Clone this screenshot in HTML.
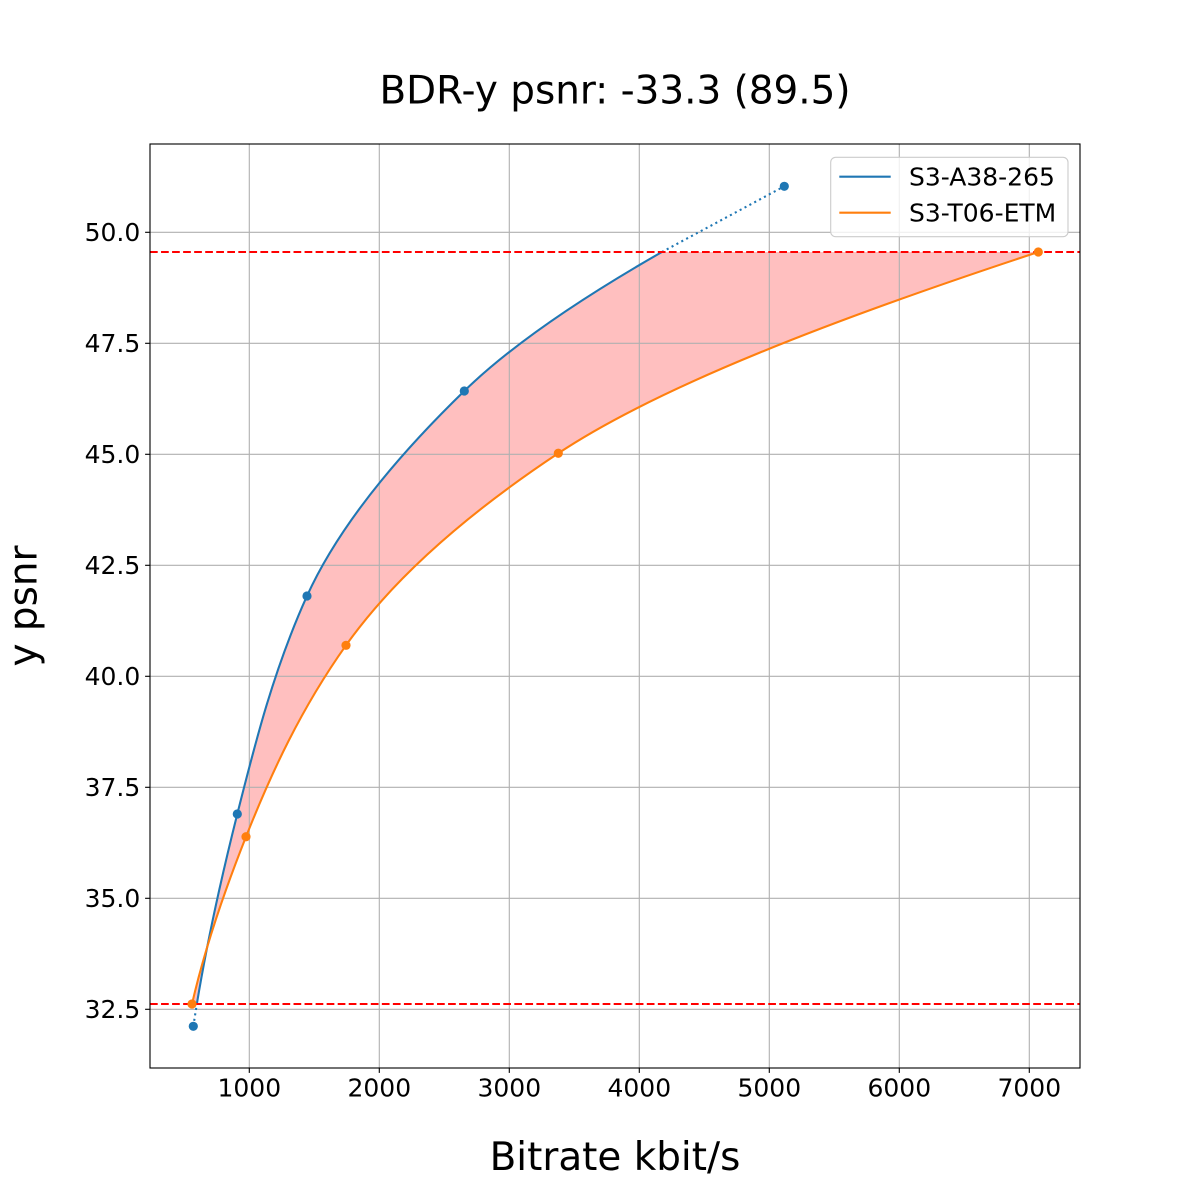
<!DOCTYPE html>
<html>
<head>
<meta charset="utf-8">
<style>
html,body{margin:0;padding:0;background:#fff;}
svg{display:block;}
text{font-family:"DejaVu Sans","Liberation Sans",sans-serif;fill:#000;}
</style>
</head>
<body>
<svg width="1200" height="1200" viewBox="0 0 1200 1200" xmlns="http://www.w3.org/2000/svg">
<rect x="0" y="0" width="1200" height="1200" fill="#fff"/>
<!-- fill between -->
<path d="M196.84,1003.97 C207.32,940.64 221.39,877.31 237.3,813.98 C255.56,741.31 274.06,668.65 307,595.98 C337.97,527.65 393.95,459.32 464.3,390.99 C511.99,344.67 580.75,298.33 661.87,252.01 L1038.3,252.01 C834.38,319.10 659.37,386.19 558.3,453.28 C461.87,517.29 391.41,581.30 346,645.31 C300.74,709.11 271.33,772.92 246,836.72 C223.87,892.49 204.81,948.25 192,1004.02 Z" fill="#ffbfbf" stroke="none"/>
<!-- grid -->
<g stroke="#b0b0b0" stroke-width="1.11">
<line x1="249.3" y1="144" x2="249.3" y2="1068"/>
<line x1="379.3" y1="144" x2="379.3" y2="1068"/>
<line x1="509.3" y1="144" x2="509.3" y2="1068"/>
<line x1="639.3" y1="144" x2="639.3" y2="1068"/>
<line x1="769.3" y1="144" x2="769.3" y2="1068"/>
<line x1="899.3" y1="144" x2="899.3" y2="1068"/>
<line x1="1029.3" y1="144" x2="1029.3" y2="1068"/>
<line x1="150" y1="232.3" x2="1080" y2="232.3"/>
<line x1="150" y1="343.3" x2="1080" y2="343.3"/>
<line x1="150" y1="454.3" x2="1080" y2="454.3"/>
<line x1="150" y1="565.3" x2="1080" y2="565.3"/>
<line x1="150" y1="676.3" x2="1080" y2="676.3"/>
<line x1="150" y1="787.3" x2="1080" y2="787.3"/>
<line x1="150" y1="898.3" x2="1080" y2="898.3"/>
<line x1="150" y1="1009.3" x2="1080" y2="1009.3"/>
</g>
<!-- blue series -->
<path d="M196.84,1003.97 C207.32,940.64 221.39,877.31 237.3,813.98 C255.56,741.31 274.06,668.65 307,595.98 C337.97,527.65 393.95,459.32 464.3,390.99 C511.99,344.67 580.75,298.33 661.87,252.01" fill="none" stroke="#1f77b4" stroke-width="2.08"/>
<line x1="193.3" y1="1026.3" x2="196.84" y2="1003.97" stroke="#1f77b4" stroke-width="2.08" stroke-dasharray="2.08 3.44"/>
<line x1="661.87" y1="252.01" x2="784.3" y2="186.3" stroke="#1f77b4" stroke-width="2.08" stroke-dasharray="2.08 3.44"/>
<!-- orange series -->
<path d="M192,1004.02 C204.81,948.25 223.87,892.49 246,836.72 C271.33,772.92 300.74,709.11 346,645.31 C391.41,581.30 461.87,517.29 558.3,453.28 C659.37,386.19 834.38,319.10 1038.3,252.01" fill="none" stroke="#ff7f0e" stroke-width="2.08"/>
<!-- red dashed -->
<line x1="150" y1="252" x2="1080" y2="252" stroke="#ff0000" stroke-width="2.08" stroke-dasharray="7.71 3.33"/>
<line x1="150" y1="1004" x2="1080" y2="1004" stroke="#ff0000" stroke-width="2.08" stroke-dasharray="7.71 3.33"/>
<!-- markers -->
<g fill="#1f77b4">
<circle cx="193.3" cy="1026.3" r="4.6"/>
<circle cx="237.3" cy="813.98" r="4.6"/>
<circle cx="307" cy="595.98" r="4.6"/>
<circle cx="464.3" cy="390.99" r="4.6"/>
<circle cx="784.3" cy="186.3" r="4.6"/>
</g>
<g fill="#ff7f0e">
<circle cx="192" cy="1004.02" r="4.6"/>
<circle cx="246" cy="836.72" r="4.6"/>
<circle cx="346" cy="645.31" r="4.6"/>
<circle cx="558.3" cy="453.28" r="4.6"/>
<circle cx="1038.3" cy="252.01" r="4.6"/>
</g>
<!-- spines -->
<rect x="150" y="144" width="930" height="924" fill="none" stroke="#000" stroke-width="1.11"/>
<!-- ticks -->
<g stroke="#000" stroke-width="1.11">
<line x1="249.3" y1="1068" x2="249.3" y2="1072.9"/>
<line x1="379.3" y1="1068" x2="379.3" y2="1072.9"/>
<line x1="509.3" y1="1068" x2="509.3" y2="1072.9"/>
<line x1="639.3" y1="1068" x2="639.3" y2="1072.9"/>
<line x1="769.3" y1="1068" x2="769.3" y2="1072.9"/>
<line x1="899.3" y1="1068" x2="899.3" y2="1072.9"/>
<line x1="1029.3" y1="1068" x2="1029.3" y2="1072.9"/>
<line x1="145.1" y1="232.3" x2="150" y2="232.3"/>
<line x1="145.1" y1="343.3" x2="150" y2="343.3"/>
<line x1="145.1" y1="454.3" x2="150" y2="454.3"/>
<line x1="145.1" y1="565.3" x2="150" y2="565.3"/>
<line x1="145.1" y1="676.3" x2="150" y2="676.3"/>
<line x1="145.1" y1="787.3" x2="150" y2="787.3"/>
<line x1="145.1" y1="898.3" x2="150" y2="898.3"/>
<line x1="145.1" y1="1009.3" x2="150" y2="1009.3"/>
</g>
<!-- tick labels -->
<g font-size="25" text-anchor="middle">
<text x="249.3" y="1096.5">1000</text>
<text x="379.3" y="1096.5">2000</text>
<text x="509.3" y="1096.5">3000</text>
<text x="639.3" y="1096.5">4000</text>
<text x="769.3" y="1096.5">5000</text>
<text x="899.3" y="1096.5">6000</text>
<text x="1029.3" y="1096.5">7000</text>
</g>
<g font-size="25" text-anchor="end">
<text x="140.3" y="240.8">50.0</text>
<text x="140.3" y="351.8">47.5</text>
<text x="140.3" y="462.8">45.0</text>
<text x="140.3" y="573.8">42.5</text>
<text x="140.3" y="684.8">40.0</text>
<text x="140.3" y="795.8">37.5</text>
<text x="140.3" y="906.8">35.0</text>
<text x="140.3" y="1017.8">32.5</text>
</g>
<!-- title and axis labels -->
<text x="615" y="103.3" font-size="38.9" text-anchor="middle">BDR-y psnr: -33.3 (89.5)</text>
<text x="615" y="1170" font-size="38.9" text-anchor="middle">Bitrate kbit/s</text>
<text transform="translate(36.3,606) rotate(-90)" font-size="38.9" text-anchor="middle">y psnr</text>
<!-- legend -->
<rect x="830.7" y="157.3" width="237.3" height="79.4" rx="5" ry="5" fill="#ffffff" fill-opacity="0.8" stroke="#cccccc" stroke-width="1.11"/>
<line x1="839.3" y1="176.7" x2="890.7" y2="176.7" stroke="#1f77b4" stroke-width="2.08"/>
<line x1="839.3" y1="212.7" x2="890.7" y2="212.7" stroke="#ff7f0e" stroke-width="2.08"/>
<text x="909" y="185.7" font-size="25">S3-A38-265</text>
<text x="909" y="221.7" font-size="25">S3-T06-ETM</text>
</svg>
</body>
</html>
